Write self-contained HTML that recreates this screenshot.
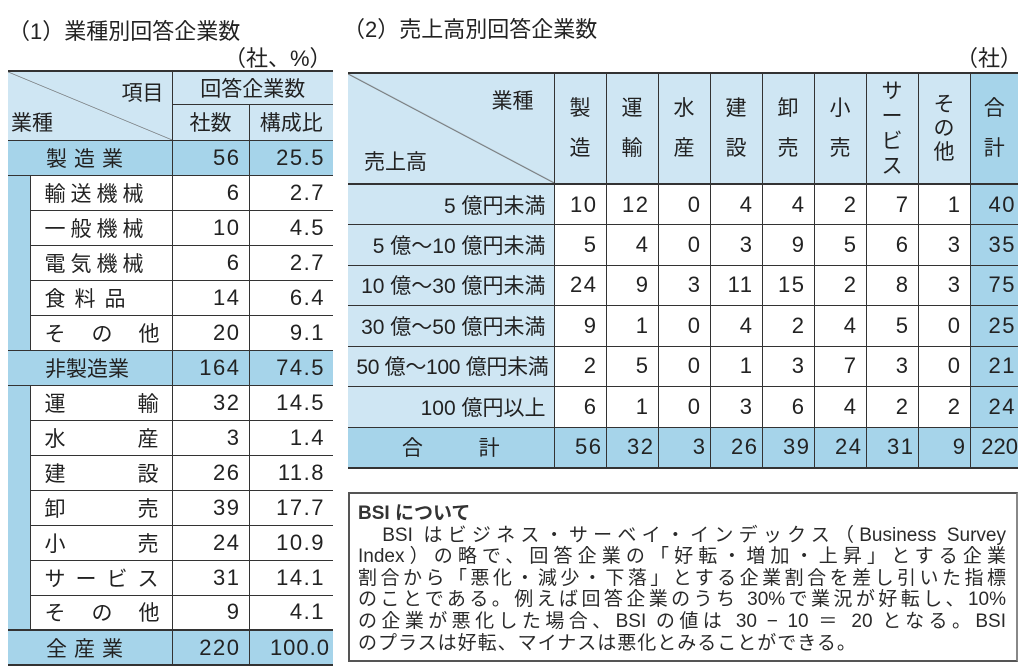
<!DOCTYPE html>
<html><head><meta charset="utf-8"><style>
body{margin:0;width:1024px;height:667px;background:#fff;position:relative;overflow:hidden;font-family:"Liberation Sans","Noto Sans CJK JP",sans-serif;color:#222}
.t{position:absolute;white-space:nowrap}
table{border-collapse:collapse;table-layout:fixed;position:absolute}
td{padding:0;border:1.5px solid #333;font-size:21px;overflow:hidden;white-space:nowrap}
.lb{background:#cfe6f3}.db{background:#a6d4ea}
.r{text-align:right;padding-right:8px;font-size:22px;letter-spacing:1.5px}.c{text-align:center}
#L td.s{border-top:none;border-bottom:none;background:#a6d4ea}
.j{text-align:justify;text-align-last:justify;white-space:nowrap}
</style></head><body>
<div class="t" style="left:8px;top:14px;font-size:22px">（1）業種別回答企業数</div>
<div class="t" style="left:224px;top:41px;font-size:22px">（社、%）</div>
<div class="t" style="left:343px;top:12px;font-size:22px">（2）売上高別回答企業数</div>
<div class="t" style="left:956px;top:41px;font-size:22px">（社）</div>

<table id="L" style="left:8px;top:70px;width:325px;border-top:2.5px solid #333;border-bottom:2.5px solid #333">
<colgroup><col style="width:22px"><col style="width:142px"><col style="width:77px"><col style="width:84px"></colgroup>
<tr style="height:33px"><td colspan="2" rowspan="2" class="lb" style="border-left:none;position:relative;background:#cfe6f3 linear-gradient(to top right,transparent 49.6%,#666 50%,transparent 50.6%)"><span style="position:absolute;right:8px;top:5px">項目</span><span style="position:absolute;left:3px;top:35px">業種</span></td><td colspan="2" class="lb c" style="border-right:none">回答企業数</td></tr>
<tr style="height:36px"><td class="lb c">社数</td><td class="lb c" style="border-right:none">構成比</td></tr>
<tr style="height:35px" class="db"><td colspan="2" style="border-left:none;padding-left:38px;letter-spacing:7px">製造業</td><td class="r">56</td><td class="r" style="border-right:none">25.5</td></tr>
<tr style="height:35px"><td class="s" style="border-left:none"></td><td style="padding-left:14px;letter-spacing:5px">輸送機械</td><td class="r">6</td><td class="r" style="border-right:none">2.7</td></tr>
<tr style="height:35px"><td class="s" style="border-left:none"></td><td style="padding-left:14px;letter-spacing:5px">一般機械</td><td class="r">10</td><td class="r" style="border-right:none">4.5</td></tr>
<tr style="height:35px"><td class="s" style="border-left:none"></td><td style="padding-left:14px;letter-spacing:5px">電気機械</td><td class="r">6</td><td class="r" style="border-right:none">2.7</td></tr>
<tr style="height:35px"><td class="s" style="border-left:none"></td><td style="padding-left:14px;letter-spacing:9px">食料品</td><td class="r">14</td><td class="r" style="border-right:none">6.4</td></tr>
<tr style="height:35px"><td class="s" style="border-left:none"></td><td style="padding-left:14px;letter-spacing:26px">その他</td><td class="r">20</td><td class="r" style="border-right:none">9.1</td></tr>
<tr style="height:35px" class="db"><td colspan="2" style="border-left:none;padding-left:37px">非製造業</td><td class="r">164</td><td class="r" style="border-right:none">74.5</td></tr>
<tr style="height:35px"><td class="s" style="border-left:none"></td><td style="padding-left:14px;letter-spacing:72px">運輸</td><td class="r">32</td><td class="r" style="border-right:none">14.5</td></tr>
<tr style="height:35px"><td class="s" style="border-left:none"></td><td style="padding-left:14px;letter-spacing:72px">水産</td><td class="r">3</td><td class="r" style="border-right:none">1.4</td></tr>
<tr style="height:35px"><td class="s" style="border-left:none"></td><td style="padding-left:14px;letter-spacing:72px">建設</td><td class="r">26</td><td class="r" style="border-right:none">11.8</td></tr>
<tr style="height:35px"><td class="s" style="border-left:none"></td><td style="padding-left:14px;letter-spacing:72px">卸売</td><td class="r">39</td><td class="r" style="border-right:none">17.7</td></tr>
<tr style="height:35px"><td class="s" style="border-left:none"></td><td style="padding-left:14px;letter-spacing:72px">小売</td><td class="r">24</td><td class="r" style="border-right:none">10.9</td></tr>
<tr style="height:35px"><td class="s" style="border-left:none"></td><td style="padding-left:14px;letter-spacing:10px">サービス</td><td class="r">31</td><td class="r" style="border-right:none">14.1</td></tr>
<tr style="height:35px"><td class="s" style="border-left:none"></td><td style="padding-left:14px;letter-spacing:26px">その他</td><td class="r">9</td><td class="r" style="border-right:none">4.1</td></tr>
<tr style="height:35px" class="db"><td colspan="2" style="border-left:none;border-top:2.5px solid #333;padding-left:38px;letter-spacing:7px">全産業</td><td class="r" style="border-top:2.5px solid #333">220</td><td class="r" style="border-right:none;border-top:2.5px solid #333;padding-right:3px;letter-spacing:1px">100.0</td></tr>
</table>

<table id="R" style="left:348px;top:72px;width:670px;border-top:2.5px solid #333;border-bottom:2.5px solid #333">
<colgroup><col style="width:206px"><col span="8" style="width:52px"><col style="width:48px"></colgroup>
<tr style="height:111px" class="lb"><td style="border-left:none;position:relative;background:#cfe6f3 linear-gradient(to top right,transparent 49.6%,#666 50%,transparent 50.6%)"><span style="position:absolute;right:20px;top:11px">業種</span><span style="position:absolute;left:16px;top:72px">売上高</span></td>
<td class="c" style="line-height:40px">製<br>造</td><td class="c" style="line-height:40px">運<br>輸</td><td class="c" style="line-height:40px">水<br>産</td><td class="c" style="line-height:40px">建<br>設</td><td class="c" style="line-height:40px">卸<br>売</td><td class="c" style="line-height:40px">小<br>売</td><td class="c" style="line-height:25px">サ<br>ー<br>ビ<br>ス</td><td class="c" style="line-height:24px">そ<br>の<br>他</td><td class="c db" style="border-right:none;line-height:40px">合<br>計</td></tr>
<tr style="height:40.5px;border-top:2.5px solid #333"><td class="lb" style="border-left:none;text-align:right;padding-right:8px">5 億円未満</td><td class="r">10</td><td class="r">12</td><td class="r">0</td><td class="r">4</td><td class="r">4</td><td class="r">2</td><td class="r">7</td><td class="r">1</td><td class="r db" style="border-right:none;padding-right:2px">40</td></tr>
<tr style="height:40.5px"><td class="lb" style="border-left:none;text-align:right;padding-right:8px">5 億～10 億円未満</td><td class="r">5</td><td class="r">4</td><td class="r">0</td><td class="r">3</td><td class="r">9</td><td class="r">5</td><td class="r">6</td><td class="r">3</td><td class="r db" style="border-right:none;padding-right:2px">35</td></tr>
<tr style="height:40.5px"><td class="lb" style="border-left:none;text-align:right;padding-right:8px">10 億～30 億円未満</td><td class="r">24</td><td class="r">9</td><td class="r">3</td><td class="r">11</td><td class="r">15</td><td class="r">2</td><td class="r">8</td><td class="r">3</td><td class="r db" style="border-right:none;padding-right:2px">75</td></tr>
<tr style="height:40.5px"><td class="lb" style="border-left:none;text-align:right;padding-right:8px">30 億～50 億円未満</td><td class="r">9</td><td class="r">1</td><td class="r">0</td><td class="r">4</td><td class="r">2</td><td class="r">4</td><td class="r">5</td><td class="r">0</td><td class="r db" style="border-right:none;padding-right:2px">25</td></tr>
<tr style="height:40.5px"><td class="lb" style="border-left:none;text-align:right;padding-right:5px;letter-spacing:-0.3px">50 億～100 億円未満</td><td class="r">2</td><td class="r">5</td><td class="r">0</td><td class="r">1</td><td class="r">3</td><td class="r">7</td><td class="r">3</td><td class="r">0</td><td class="r db" style="border-right:none;padding-right:2px">21</td></tr>
<tr style="height:40.5px"><td class="lb" style="border-left:none;text-align:right;padding-right:8px">100 億円以上</td><td class="r">6</td><td class="r">1</td><td class="r">0</td><td class="r">3</td><td class="r">6</td><td class="r">4</td><td class="r">2</td><td class="r">2</td><td class="r db" style="border-right:none;padding-right:2px">24</td></tr>
<tr style="height:41px" class="db"><td class="c" style="border-left:none;word-spacing:50px">合 計</td><td class="r" style="padding-right:3px">56</td><td class="r" style="padding-right:3px">32</td><td class="r" style="padding-right:3px">3</td><td class="r" style="padding-right:3px">26</td><td class="r" style="padding-right:3px">39</td><td class="r" style="padding-right:3px">24</td><td class="r" style="padding-right:3px">31</td><td class="r" style="padding-right:3px">9</td><td class="r" style="border-right:none;padding-right:0;letter-spacing:0">220</td></tr>
</table>

<div style="position:absolute;left:348px;top:492px;width:666px;height:166px;border:2px solid #555;border-right-color:#888"></div>
<div style="position:absolute;left:358px;top:503px;width:648px;font-size:19px;line-height:21.6px;color:#2a2a2a">
<div style="font-weight:bold;color:#333">BSI について</div>
<div class="j">　BSI はビジネス・サーベイ・インデックス（Business Survey</div>
<div class="j">Index）の略で、回答企業の「好転・増加・上昇」とする企業</div>
<div class="j">割合から「悪化・減少・下落」とする企業割合を差し引いた指標</div>
<div class="j">のことである。例えば回答企業のうち 30%で業況が好転し、10%</div>
<div class="j">の企業が悪化した場合、BSI の値は 30 − 10 ＝ 20 となる。BSI</div>
<div style="white-space:nowrap;letter-spacing:1px">のプラスは好転、マイナスは悪化とみることができる。</div>
</div>
</body></html>
